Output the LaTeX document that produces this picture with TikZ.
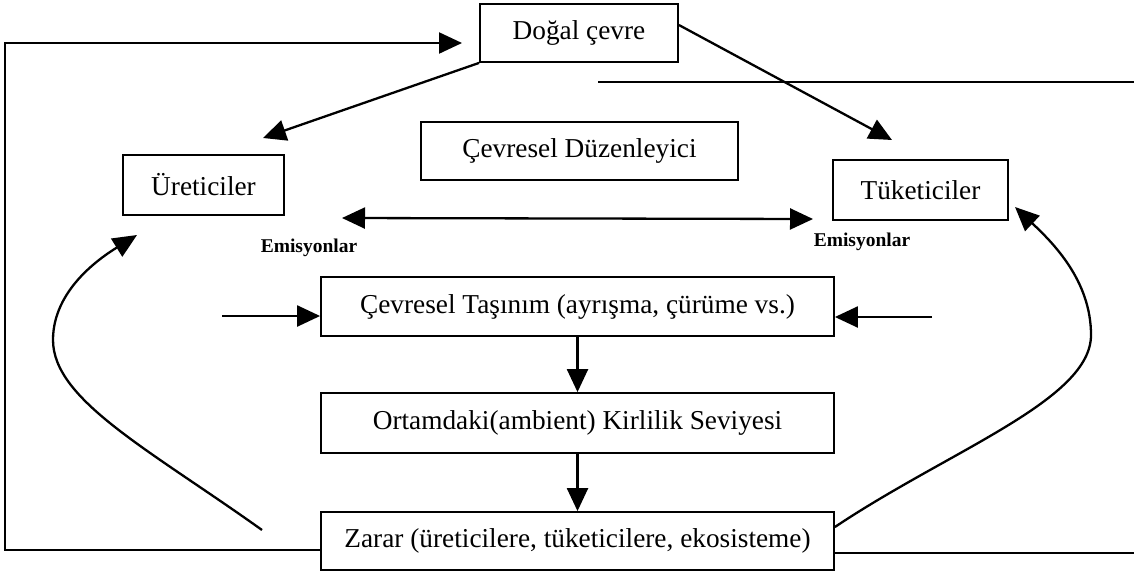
\documentclass[tikz,border=0pt]{standalone}
\usepackage{fontspec}
\setmainfont{Liberation Serif}
\usetikzlibrary{arrows.meta}
\begin{document}
\begin{tikzpicture}[x=1pt,y=-1pt,
  box/.style={draw,line width=1.8pt,inner sep=0pt,font=\fontsize{27.3}{30}\selectfont},
  emis/.style={inner sep=0pt,font=\bfseries\fontsize{19.5}{22}\selectfont},
  ln/.style={line width=2pt},
  arr/.style={line width=2.3pt,-{Triangle[length=23pt,width=21pt]}},
  arrd/.style={line width=2.3pt,{Triangle[length=23pt,width=21pt]}-{Triangle[length=23pt,width=21pt]}},
  curv/.style={line width=2.3pt,-{Triangle[length=24pt,width=21pt]}}]
\useasboundingbox (0,0) rectangle (1134,573);
% boxes
\node[box,minimum width=198pt,minimum height=58pt] (dogal) at (579,33) {Doğal çevre};
\node[box,minimum width=317pt,minimum height=58pt] (duz) at (579.5,151) {Çevresel Düzenleyici};
\node[box,minimum width=161pt,minimum height=60pt] (uret) at (203.5,185) {Üreticiler};
\node[box,minimum width=175pt,minimum height=60pt] (tuk) at (920.5,190) {Tüketiciler};
\node[box,minimum width=513pt,minimum height=59pt] (tas) at (577.5,306.5) {Çevresel Taşınım (ayrışma, çürüme vs.)};
\node[box,minimum width=513pt,minimum height=60pt] (ort) at (577.5,423) {Ortamdaki(ambient) Kirlilik Seviyesi};
\node[box,minimum width=513pt,minimum height=58pt] (zarar) at (577.5,541) {Zarar (üreticilere, tüketicilere, ekosisteme)};
% labels
\node[emis] (em1) at (309,248) {Emisyonlar};
\node[emis] (em2) at (862,242) {Emisyonlar};
% free coordinates
\coordinate (tl) at (5,43);
\coordinate (bl) at (5,550);
\coordinate (dtip) at (462,43);
\coordinate (utip) at (263,138);
\coordinate (ttip) at (892,140);
\coordinate (eml) at (342,218);
\coordinate (emr) at (813,219);
\coordinate (inl) at (222,316);
\coordinate (inr) at (932,317);
\coordinate (hr1) at (598,82);
\coordinate (hr2) at (1134,82);
\coordinate (br) at (1134,553);
\coordinate (lcs) at (262,530);
\coordinate (lct) at (137,235);
\coordinate (rct) at (1015,207);
% left loop
\draw[arr] ([yshift=-9pt]zarar.west) -- (bl) -- (tl) -- (dtip);
% right lines
\draw[ln] ([yshift=-12pt]zarar.east) -- (br);
\draw[ln] (hr1) -- (hr2);
% Dogal to producers/consumers
\draw[arr] (dogal.south west) -- (utip);
\draw[arr] ([yshift=8pt]dogal.east) -- (ttip);
% emissions double arrow
\draw[arrd] (eml) -- (emr);
% side inputs
\draw[arr] (inl) -- (inl -| tas.west);
\draw[arr] (inr) -- (inr -| tas.east);
% vertical chain
\draw[arr] (tas.south) -- (ort.north);
\draw[arr] (ort.south) -- (zarar.north);
% feedback curves
\draw[curv] (lcs) .. controls (150,450) and (53,400) .. (53,340) .. controls (53,290) and (100,258) .. (lct);
\draw[curv] ([yshift=14pt]zarar.east) .. controls (950,450) and (1091,400) .. (1091,335) .. controls (1091,280) and (1052,242) .. (rct);
\end{tikzpicture}
\end{document}
